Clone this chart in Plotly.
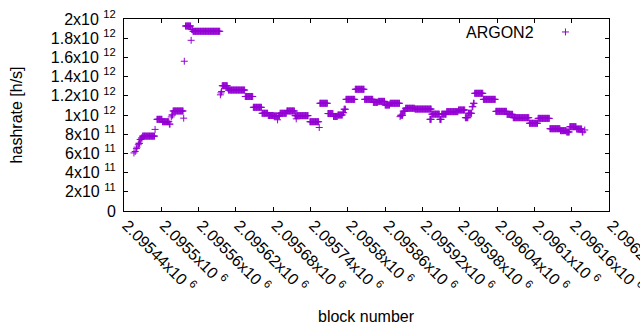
import plotly.graph_objects as go

# Runs of constant hashrate: first block, last block, hashrate (h/s)
run_start = [2095456, 2095458, 2095460, 2095461, 2095463, 2095464, 2095466, 2095468, 2095470, 2095490,
             2095493, 2095502, 2095513, 2095516, 2095517, 2095519, 2095536, 2095537, 2095539, 2095548,
             2095549, 2095551, 2095595, 2095596, 2095597, 2095598, 2095607, 2095608, 2095635, 2095648,
             2095662, 2095672, 2095681, 2095687, 2095688, 2095691, 2095702, 2095715, 2095717, 2095739,
             2095754, 2095755, 2095768, 2095777, 2095784, 2095792, 2095794, 2095797, 2095812, 2095827,
             2095841, 2095849, 2095860, 2095868, 2095884, 2095885, 2095889, 2095893, 2095908, 2095932,
             2095935, 2095948, 2095951, 2095959, 2095978, 2095989, 2095994, 2096000, 2096002, 2096004,
             2096018, 2096038, 2096056, 2096066, 2096092, 2096106, 2096125, 2096142, 2096152, 2096157,
             2096168, 2096177, 2096181]
run_end = [2095456, 2095458, 2095460, 2095461, 2095463, 2095465, 2095467, 2095469, 2095489, 2095490,
           2095501, 2095512, 2095514, 2095516, 2095518, 2095535, 2095536, 2095537, 2095547, 2095548,
           2095550, 2095594, 2095595, 2095596, 2095597, 2095606, 2095607, 2095634, 2095647, 2095661,
           2095671, 2095680, 2095686, 2095687, 2095690, 2095701, 2095714, 2095716, 2095736, 2095753,
           2095754, 2095767, 2095776, 2095783, 2095791, 2095793, 2095796, 2095811, 2095826, 2095840,
           2095848, 2095859, 2095867, 2095883, 2095884, 2095888, 2095892, 2095907, 2095934, 2095934,
           2095947, 2095950, 2095958, 2095977, 2095988, 2095993, 2095999, 2096001, 2096003, 2096017,
           2096037, 2096055, 2096065, 2096091, 2096105, 2096124, 2096141, 2096151, 2096156, 2096167,
           2096176, 2096178, 2096181]
run_value = [6.05e11, 6.2e11, 6.5e11, 6.65e11, 6.9e11, 7.05e11, 7.45e11, 7.6e11, 7.8e11, 8.5e11,
             9.55e11, 9.3e11, 9.05e11, 9.8e11, 1.0e12, 1.042e12, 9.67e11, 1.56e12, 1.927e12, 1.778e12,
             1.89e12, 1.872e12, 1.21e12, 1.23e12, 1.245e12, 1.305e12, 1.278e12, 1.26e12, 1.193e12, 1.08e12,
             1.018e12, 9.95e11, 9.9e11, 9.5e11, 9.9e11, 1.018e12, 1.042e12, 9.93e11, 9.93e11, 9.3e11,
             8.7e11, 1.122e12, 1.015e12, 9.85e11, 1.0e12, 1.024e12, 1.06e12, 1.163e12, 1.268e12, 1.163e12,
             1.132e12, 1.142e12, 1.104e12, 1.122e12, 9.83e11, 9.97e11, 1.04e12, 1.07e12, 1.062e12, 9.55e11,
             1.009e12, 9.55e11, 1.009e12, 1.035e12, 1.052e12, 9.72e11, 1.018e12, 1.086e12, 1.122e12, 1.226e12,
             1.163e12, 1.038e12, 1.007e12, 9.72e11, 9.14e11, 9.65e11, 8.57e11, 8.37e11, 8.23e11, 8.78e11,
             8.54e11, 8.23e11, 8.44e11]
# Isolated blocks whose value differs from the surrounding run
extra_block = [2095717]
extra_value = [9.6e11]

x_tickvals = [2095440, 2095500, 2095560, 2095620, 2095680, 2095740, 2095800,
              2095860, 2095920, 2095980, 2096040, 2096100, 2096160, 2096220]
x_ticktext = ["2.09544x10 <sup>6</sup>", "2.0955x10 <sup>6</sup>", "2.09556x10 <sup>6</sup>",
              "2.09562x10 <sup>6</sup>", "2.09568x10 <sup>6</sup>", "2.09574x10 <sup>6</sup>",
              "2.0958x10 <sup>6</sup>", "2.09586x10 <sup>6</sup>", "2.09592x10 <sup>6</sup>",
              "2.09598x10 <sup>6</sup>", "2.09604x10 <sup>6</sup>", "2.0961x10 <sup>6</sup>",
              "2.09616x10 <sup>6</sup>", "2.09622x10 <sup>6</sup>"]
y_tickvals = [0, 2e11, 4e11, 6e11, 8e11, 1e12, 1.2e12, 1.4e12, 1.6e12, 1.8e12, 2e12]
y_ticktext = ["0", "2x10 <sup>11</sup>", "4x10 <sup>11</sup>", "6x10 <sup>11</sup>", "8x10 <sup>11</sup>",
              "1x10 <sup>12</sup>", "1.2x10 <sup>12</sup>", "1.4x10 <sup>12</sup>", "1.6x10 <sup>12</sup>",
              "1.8x10 <sup>12</sup>", "2x10 <sup>12</sup>"]
series_name = "ARGON2"

blocks, rates = [], []
for s, e, v in zip(run_start, run_end, run_value):
    for b in range(s, e + 1):
        blocks.append(b)
        rates.append(v)
blocks += extra_block
rates += extra_value

FONT = "Liberation Sans, Arial, sans-serif"
COLOR = "#9400D3"

fig = go.Figure()
fig.add_trace(go.Scatter(
    x=blocks, y=rates, mode="markers", name=" ",
    marker=dict(symbol="cross-thin", size=5, color=COLOR, line=dict(color=COLOR, width=1)),
))

axis_common = dict(showline=True, linecolor="black", linewidth=1, mirror="ticks",
                   ticks="inside", ticklen=4, tickcolor="black", showgrid=False,
                   zeroline=False, automargin=False, ticklabeloverflow="allow",
                   tickfont=dict(family=FONT, size=16, color="black"))

fig.update_layout(
    width=640, height=330,
    margin=dict(l=124, r=31, t=19, b=119, autoexpand=False),
    paper_bgcolor="white", plot_bgcolor="white",
    font=dict(family=FONT, size=16, color="black"),
    xaxis=dict(range=[2095440, 2096220], tickvals=x_tickvals, ticktext=x_ticktext,
               tickangle=45, ticklabelstandoff=-2, ticklabelshift=3, **axis_common),
    yaxis=dict(range=[0, 2e12], tickvals=y_tickvals, ticktext=y_ticktext,
               ticklabelstandoff=4, **axis_common),
    showlegend=True,
    legend=dict(x=0.869, y=0.932, xanchor="left", yanchor="middle", bgcolor="rgba(0,0,0,0)",
                font=dict(family=FONT, size=16)),
    annotations=[
        dict(text=series_name, xref="paper", yref="paper", x=0.849, y=0.932,
             xanchor="right", yanchor="middle", showarrow=False,
             font=dict(family=FONT, size=16)),
        dict(text="hashrate [h/s]", xref="paper", yref="paper", x=-0.2219, y=0.5,
             xanchor="center", yanchor="middle",
             textangle=-90, showarrow=False, font=dict(family=FONT, size=16)),
        dict(text="block number", xref="paper", yref="paper", x=0.5, y=-0.55,
             xanchor="center", yanchor="middle",
             showarrow=False, font=dict(family=FONT, size=16)),
    ],
)

fig.write_html("out.html", config={"displayModeBar": False},
               post_script="document.body.style.margin='0';")
